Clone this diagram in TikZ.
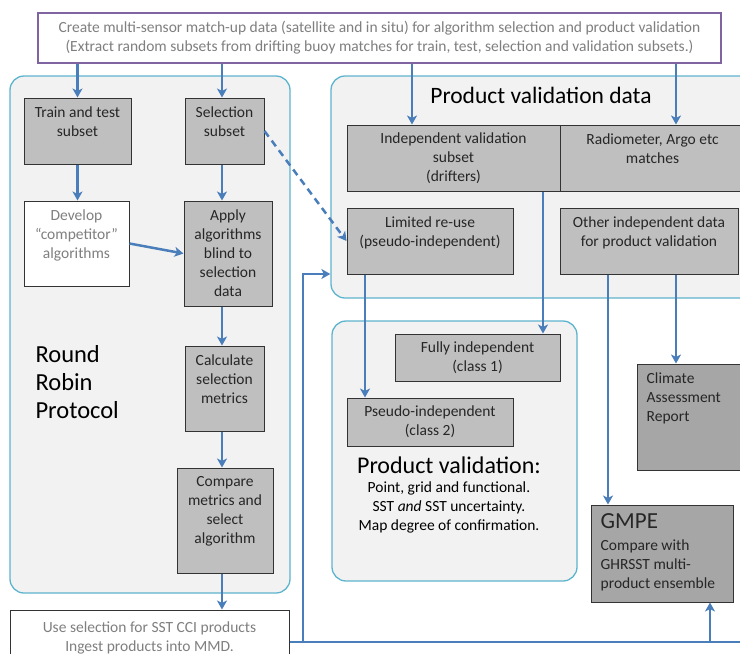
\documentclass[tikz,border=0pt]{standalone}
\usepackage{fontspec}
\setmainfont{Carlito}
\usetikzlibrary{arrows.meta, calc}

\definecolor{flowblue}{RGB}{74,126,187}
\definecolor{panelblue}{RGB}{93,180,206}
\definecolor{panelfill}{RGB}{242,242,242}
\definecolor{boxfill}{RGB}{191,191,191}
\definecolor{darkfill}{RGB}{166,166,166}
\definecolor{framepurple}{RGB}{128,100,162}
\definecolor{softtext}{RGB}{127,127,127}

\begin{document}
\begin{tikzpicture}[
    x = 1pt, y = -1pt,
    font = \fontsize{15.5}{19}\selectfont,
    >= {Stealth[length = 9pt, width = 10pt, inset = 2.5pt]},
    panel/.style = {rectangle,
      rounded corners = 14pt,
      draw = panelblue,
      fill = panelfill,
      line width = 1.3pt},
    box/.style = {rectangle,
      draw = black!80,
      fill = boxfill,
      line width = 1pt,
      align = center,
      text = black!85},
    darkbox/.style = {box, fill = darkfill},
    plainbox/.style = {box, fill = white, text = softtext},
    toptext/.style = {label = {[anchor = north, align = center,
        inner sep = 9pt, text = black!85]north:#1}},
    greytoptext/.style = {label = {[anchor = north, align = center,
        inner sep = 9pt, text = softtext]north:#1}},
    topleft/.style = {label = {[anchor = north west, align = left,
        inner sep = 9pt, xshift = 1pt, text = black!85]north west:#1}},
    flow/.style = {draw = flowblue, line width = 2.5pt}
    ]
    \clip (0, 0) rectangle (740, 654);

    \node at (150, 334.5) [panel, minimum width = 280pt, minimum height = 517pt, name = robin] {};
    \node at (545.5, 187) [panel, minimum width = 429pt, minimum height = 222pt, name = valdata] {};
    \node at (454.5, 451) [panel, minimum width = 245pt, minimum height = 260pt, name = valid] {};

    \node at (379.5, 38) [rectangle, draw = framepurple, line width = 2.5pt, fill = white,
      minimum width = 683pt, minimum height = 50pt, align = center, text = softtext,
      name = source] {Create multi-sensor match-up data (satellite and in situ) for algorithm selection and product validation\\(Extract random subsets from drifting buoy matches for train, test, selection and validation subsets.)};

    \node at (32, 382) [anchor = west, align = left, font = \fontsize{24.5}{28}\selectfont,
      name = robintitle] {Round\\Robin\\Protocol};
    \node at (541, 95) [font = \fontsize{23.5}{28}\selectfont, name = valdatatitle] {Product validation data};
    \node at (449, 465) [font = \fontsize{24}{28}\selectfont, name = validtitle] {Product validation:};
    \node at (449, 507) [align = center, font = \fontsize{15.5}{19}\selectfont, name = validtext]
    {Point, grid and functional.\\SST \textit{and} SST uncertainty.\\Map degree of confirmation.};

    \node at (77.5, 131) [box, minimum width = 107pt, minimum height = 66pt,
      toptext = {Train and test\\subset}, name = train] {};
    \node at (224.5, 131) [box, minimum width = 79pt, minimum height = 66pt,
      toptext = {Selection\\subset}, name = sel] {};
    \node at (76.5, 243.5) [plainbox, minimum width = 105pt, minimum height = 85pt,
      greytoptext = {Develop\\``competitor''\\algorithms}, name = dev] {};
    \node at (228, 253.5) [box, minimum width = 88pt, minimum height = 105pt,
      name = apply] {Apply\\algorithms\\blind to\\selection\\data};
    \node at (224.5, 388.5) [box, minimum width = 79pt, minimum height = 85pt,
      toptext = {Calculate\\selection\\metrics}, name = calc] {};
    \node at (225, 520.5) [box, minimum width = 96pt, minimum height = 105pt,
      toptext = {Compare\\metrics and\\select\\algorithm}, name = comp] {};
    \node at (149.5, 637.5) [plainbox, minimum width = 279pt, minimum height = 55pt,
      name = use] {Use selection for SST CCI products\\Ingest products into MMD.};

    \node at (453.5, 158) [box, minimum width = 213pt, minimum height = 66pt,
      name = indep] {Independent validation\\subset\\(drifters)};
    \node at (652.5, 158) [box, minimum width = 185pt, minimum height = 66pt,
      toptext = {Radiometer, Argo etc\\matches}, name = radio] {};
    \node at (430, 241) [box, minimum width = 166pt, minimum height = 66pt,
      toptext = {Limited re-use\\(pseudo-independent)}, name = reuse] {};
    \node at (649, 241) [box, minimum width = 178pt, minimum height = 66pt,
      toptext = {Other independent data\\for product validation}, name = other] {};
    \node at (477.5, 357.5) [box, minimum width = 165pt, minimum height = 47pt,
      name = fully] {Fully independent\\(class 1)};
    \node at (430, 422) [box, minimum width = 166pt, minimum height = 48pt,
      name = pseudo] {Pseudo-independent\\(class 2)};
    \node at (691, 417) [darkbox, minimum width = 108pt, minimum height = 106pt,
      topleft = {Climate\\Assessment\\Report}, name = climate] {};
    \node at (662, 553.5) [darkbox, minimum width = 142pt, minimum height = 97pt,
      topleft = {{\fontsize{23}{24}\selectfont GMPE}\\[3pt]Compare with\\GHRSST multi-\\product ensemble},
      name = gmpe] {};

    \coordinate (colsel) at (222, 0);
    \coordinate (colindep) at (412, 0);
    \coordinate (colradio) at (676, 0);
    \coordinate (colfully) at (543, 0);
    \coordinate (colpseudo) at (365, 0);
    \coordinate (colgmpe) at (608, 0);
    \coordinate (colbus) at (710, 0);
    \coordinate (bus) at (303, 642);
    \coordinate (busend) at (745, 642);
    \coordinate (feed) at (0, 274);

    \draw [flow, ->] (source.south -| train) -- (train.north);
    \draw [flow, ->] (source.south -| colsel) -- (sel.north -| colsel);
    \draw [flow, ->] (source.south -| colindep) -- (indep.north -| colindep);
    \draw [flow, ->] (source.south -| colradio) -- (radio.north -| colradio);

    \draw [flow, ->] (train.south) -- (train.south |- dev.north);
    \draw [flow, ->] (sel.south -| colsel) -- (apply.north -| colsel);
    \draw [flow, ->] (dev.east) -- (apply.west);
    \draw [flow, ->, dash pattern = on 7pt off 5pt] (sel.east) -- (reuse.west);
    \draw [flow, ->] (apply.south -| colsel) -- (calc.north -| colsel);
    \draw [flow, ->] (calc.south -| colsel) -- (comp.north -| colsel);
    \draw [flow, ->] (comp.south -| colsel) -- (use.north -| colsel);

    \draw [flow, ->] (indep.south -| colfully) -- (fully.north -| colfully);
    \draw [flow, ->] (reuse.south -| colpseudo) -- (pseudo.north -| colpseudo);
    \draw [flow, ->] (other.south -| colgmpe) -- (gmpe.north -| colgmpe);
    \draw [flow, ->] (other.south -| colradio) -- (climate.north -| colradio);

    \draw [flow] (use.east |- bus) -- (busend);
    \draw [flow, ->] (bus) |- (valdata.west |- feed);
    \draw [flow, ->] (bus -| colbus) -- (gmpe.south -| colbus);
  \end{tikzpicture}
\end{document}
